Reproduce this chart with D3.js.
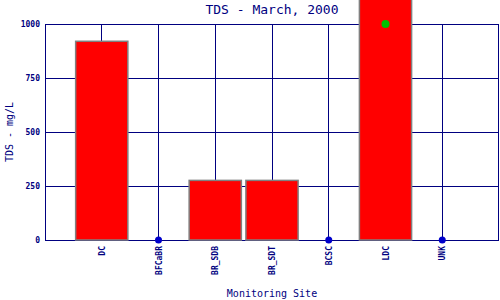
<!DOCTYPE html>
<html>
<head>
<meta charset="utf-8">
<script src="https://cdn.jsdelivr.net/npm/d3@7"></script>
<style>
  body { margin: 0; background: #fff; }
  text { font-family: "DejaVu Sans Mono", monospace; fill: #000080; }
</style>
</head>
<body>
<div id="chart"></div>
<script>
// sites and TDS values (null = no sample, drawn as dot on zero)
var sites = ["DC", "BFCaBR", "BR_SDB", "BR_SDT", "BCSC", "LDC", "UNK"];
var tds = [920, null, 276, 276, null, 1150, null];
var limitSite = "LDC";
var limitValue = 1000;
var yTicks = [0, 250, 500, 750, 1000];

var margin = { top: 24, right: 1, bottom: 60, left: 45 },
    width = 500 - margin.left - margin.right,
    height = 300 - margin.top - margin.bottom;

var svg = d3.select("#chart").append("svg")
    .attr("width", 500)
    .attr("height", 300);

var g = svg.append("g")
    .attr("transform", "translate(" + margin.left + "," + margin.top + ")");

var x = d3.scalePoint()
    .domain(sites)
    .range([0, width])
    .padding(1);

var step = x.step();
var y = d3.scaleLinear().domain([0, 1000]).range([height, 0]);

// grid
g.selectAll(".hgrid").data(yTicks).enter().append("line")
    .attr("x1", 0).attr("x2", width)
    .attr("y1", function(d) { return y(d); })
    .attr("y2", function(d) { return y(d); })
    .attr("stroke", "#000080").attr("stroke-width", 1)
    .attr("shape-rendering", "crispEdges");

g.selectAll(".vgrid").data(sites).enter().append("line")
    .attr("x1", function(d) { return x(d); })
    .attr("x2", function(d) { return x(d); })
    .attr("y1", 0).attr("y2", height)
    .attr("stroke", "#000080").attr("stroke-width", 1)
    .attr("shape-rendering", "crispEdges");

g.append("rect")
    .attr("x", 0).attr("y", 0)
    .attr("width", width - 0.5).attr("height", height)
    .attr("fill", "none")
    .attr("stroke", "#000080")
    .attr("shape-rendering", "crispEdges");

// bars
var barW = step * 0.92;
var data = sites.map(function(s, i) { return { site: s, v: tds[i] }; });

g.selectAll(".bar").data(data.filter(function(d) { return d.v != null; }))
    .enter().append("rect")
    .attr("x", function(d) { return x(d.site) - barW / 2; })
    .attr("y", function(d) { return y(d.v); })
    .attr("width", barW)
    .attr("height", function(d) { return height - y(d.v); })
    .attr("fill", "#ff0000")
    .attr("stroke", "#808080")
    .attr("stroke-width", 1.5);

// missing samples
g.selectAll(".miss").data(data.filter(function(d) { return d.v == null; }))
    .enter().append("circle")
    .attr("cx", function(d) { return x(d.site); })
    .attr("cy", y(0))
    .attr("r", 3.5)
    .attr("fill", "#0000cc");

// limit marker
g.append("circle")
    .attr("cx", x(limitSite))
    .attr("cy", y(limitValue))
    .attr("r", 4)
    .attr("fill", "#00c000");

// y tick labels
g.selectAll(".ylab").data(yTicks).enter().append("text")
    .attr("x", -5)
    .attr("y", function(d) { return y(d) + 3; })
    .attr("text-anchor", "end")
    .style("font-size", "8px")
    .style("font-weight", "bold")
    .text(function(d) { return d; });

// x tick labels
g.selectAll(".xlab").data(sites).enter().append("text")
    .attr("transform", function(d) {
        return "translate(" + (x(d) + 3) + "," + (height + 6) + ") rotate(-90)";
    })
    .attr("text-anchor", "end")
    .style("font-size", "8px")
    .style("font-weight", "bold")
    .text(function(d) { return d; });

// titles
svg.append("text")
    .attr("x", margin.left + width / 2)
    .attr("y", 14)
    .attr("text-anchor", "middle")
    .style("font-size", "13px")
    .text("TDS - March, 2000");

svg.append("text")
    .attr("x", margin.left + width / 2)
    .attr("y", 297)
    .attr("text-anchor", "middle")
    .style("font-size", "10px")
    .text("Monitoring Site");

svg.append("text")
    .attr("transform", "translate(13," + (margin.top + height / 2) + ") rotate(-90)")
    .attr("text-anchor", "middle")
    .style("font-size", "10px")
    .text("TDS - mg/L");
</script>
</body>
</html>
